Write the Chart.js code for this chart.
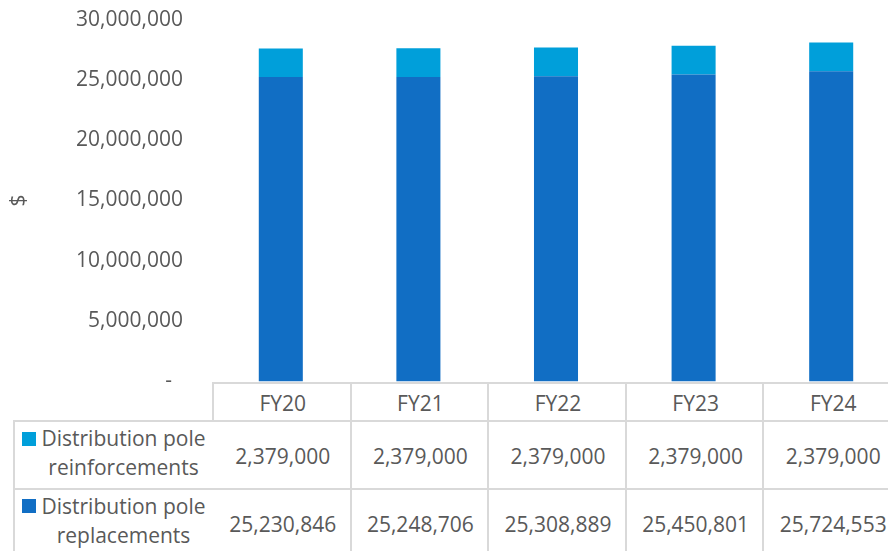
<!DOCTYPE html>
<html>
<head>
<meta charset="utf-8">
<script src="https://cdn.jsdelivr.net/npm/chart.js@4/dist/chart.umd.min.js"></script>
<style>
  body { margin: 0; background: #fff; overflow: hidden; }
  #wrap { position: relative; width: 888px; height: 551px; overflow: hidden; font-family: 'Open Sans', sans-serif; color: #595959; }
  #grafico { position: absolute; left: 0; top: 0; }
  .cell { position: absolute; box-sizing: border-box; border-left: 2px solid #d9d9d9; border-top: 2px solid #d9d9d9;
          display: flex; align-items: center; justify-content: center; font-size: 21px; background: #fff; }
  .serie { justify-content: flex-start; padding-left: 7px; padding-right: 6px; }
  .chave { width: 14px; height: 14px; align-self: flex-start; margin-right: 3px; }
  .nome { text-align: center; line-height: 29px; flex: 1; position: relative; top: -3px; }
</style>
</head>
<body>
<div id="wrap">
  <canvas id="grafico" width="900" height="406"></canvas>
  <div id="tabela"></div>
</div>
<script>
// dados do gráfico
var anos = ['FY20', 'FY21', 'FY22', 'FY23', 'FY24'];
var reforcos = [2379000, 2379000, 2379000, 2379000, 2379000];
var substituicoes = [25230846, 25248706, 25308889, 25450801, 25724553];
var nomesSeries = ['Distribution pole reinforcements', 'Distribution pole replacements'];
var corReforco = '#009fda';
var corSubstituicao = '#116ec4';

// posição desejada do topo (30M) e da base (0) do eixo y
var yTopo = 20, yBase = 382;

Chart.defaults.font.family = "'Open Sans', sans-serif";
Chart.defaults.color = '#595959';

function formatar(v) {
    return v.toLocaleString('en-US');
}

function criarConfig() {
    return {
        type: 'bar',
        data: {
            labels: anos,
            datasets: [
                {
                    label: nomesSeries[1],
                    data: substituicoes,
                    backgroundColor: corSubstituicao,
                    barPercentage: 0.32,
                    categoryPercentage: 1
                },
                {
                    label: nomesSeries[0],
                    data: reforcos,
                    backgroundColor: corReforco,
                    barPercentage: 0.32,
                    categoryPercentage: 1
                }
            ]
        },
        options: {
            responsive: false,
            animation: false,
            layout: { padding: 0 },
            plugins: { legend: { display: false }, tooltip: { enabled: false } },
            scales: {
                x: { stacked: true, display: false },
                y: {
                    stacked: true,
                    min: 0,
                    max: 30000000,
                    grid: { display: false },
                    border: { display: false },
                    ticks: {
                        stepSize: 5000000,
                        padding: 21,
                        font: { size: 21 },
                        callback: function (v) { return v === 0 ? '-  ' : formatar(v); }
                    },
                    title: { display: true, text: '$', font: { size: 21 }, padding: { top: 6, bottom: 0 } },
                    afterFit: function (escala) { escala.width = 212; }
                }
            }
        }
    };
}

var canvas = document.getElementById('grafico');

// primeira passada só para medir as margens que o Chart.js reserva
let myChart = new Chart(canvas, criarConfig());
var alturaInicial = canvas.height;
var folgaTopo = myChart.scales.y.getPixelForValue(30000000);
var folgaBase = alturaInicial - myChart.scales.y.getPixelForValue(0);
myChart.destroy();

canvas.height = Math.round(folgaTopo + (yBase - yTopo) + folgaBase);
canvas.style.top = (yTopo - folgaTopo) + 'px';
myChart = new Chart(canvas, criarConfig());

// montando a tabela de dados a partir da escala x
var tabela = document.getElementById('tabela');
var area = myChart.chartArea;
var escalaX = myChart.scales.x;
var larguraCol = area.width / anos.length;
var topoCab = myChart.scales.y.getPixelForValue(0) + (yTopo - folgaTopo);
var altCab = 38, altLinha = 68;

function celula(x, y, w, h, html, classe) {
    var d = document.createElement('div');
    d.className = 'cell' + (classe ? ' ' + classe : '');
    d.style.left = x + 'px'; d.style.top = y + 'px';
    d.style.width = w + 'px'; d.style.height = h + 'px';
    d.innerHTML = html;
    tabela.appendChild(d);
}

for (var i = 0; i < anos.length; i++) {
    var x0 = escalaX.getPixelForValue(i) - larguraCol / 2;
    celula(x0, topoCab, larguraCol + 2, altCab + 2, anos[i]);
    celula(x0, topoCab + altCab, larguraCol + 2, altLinha + 2, formatar(reforcos[i]));
    celula(x0, topoCab + altCab + altLinha, larguraCol + 2, altLinha + 2, formatar(substituicoes[i]));
}

var linhas = [
    { nome: ['Distribution pole', 'reinforcements'], cor: corReforco },
    { nome: ['Distribution pole', 'replacements'], cor: corSubstituicao }
];
for (var j = 0; j < linhas.length; j++) {
    var y0 = topoCab + altCab + j * altLinha;
    var html = '<div class="chave" style="background:' + linhas[j].cor + ';margin-top:' + (j == 0 ? 10 : 9) + 'px"></div>' +
        '<div class="nome">' + linhas[j].nome.join('<br>') + '</div>';
    celula(13, y0, area.left - 13 + 2, altLinha + 2, html, 'serie');
}
</script>
</body>
</html>
